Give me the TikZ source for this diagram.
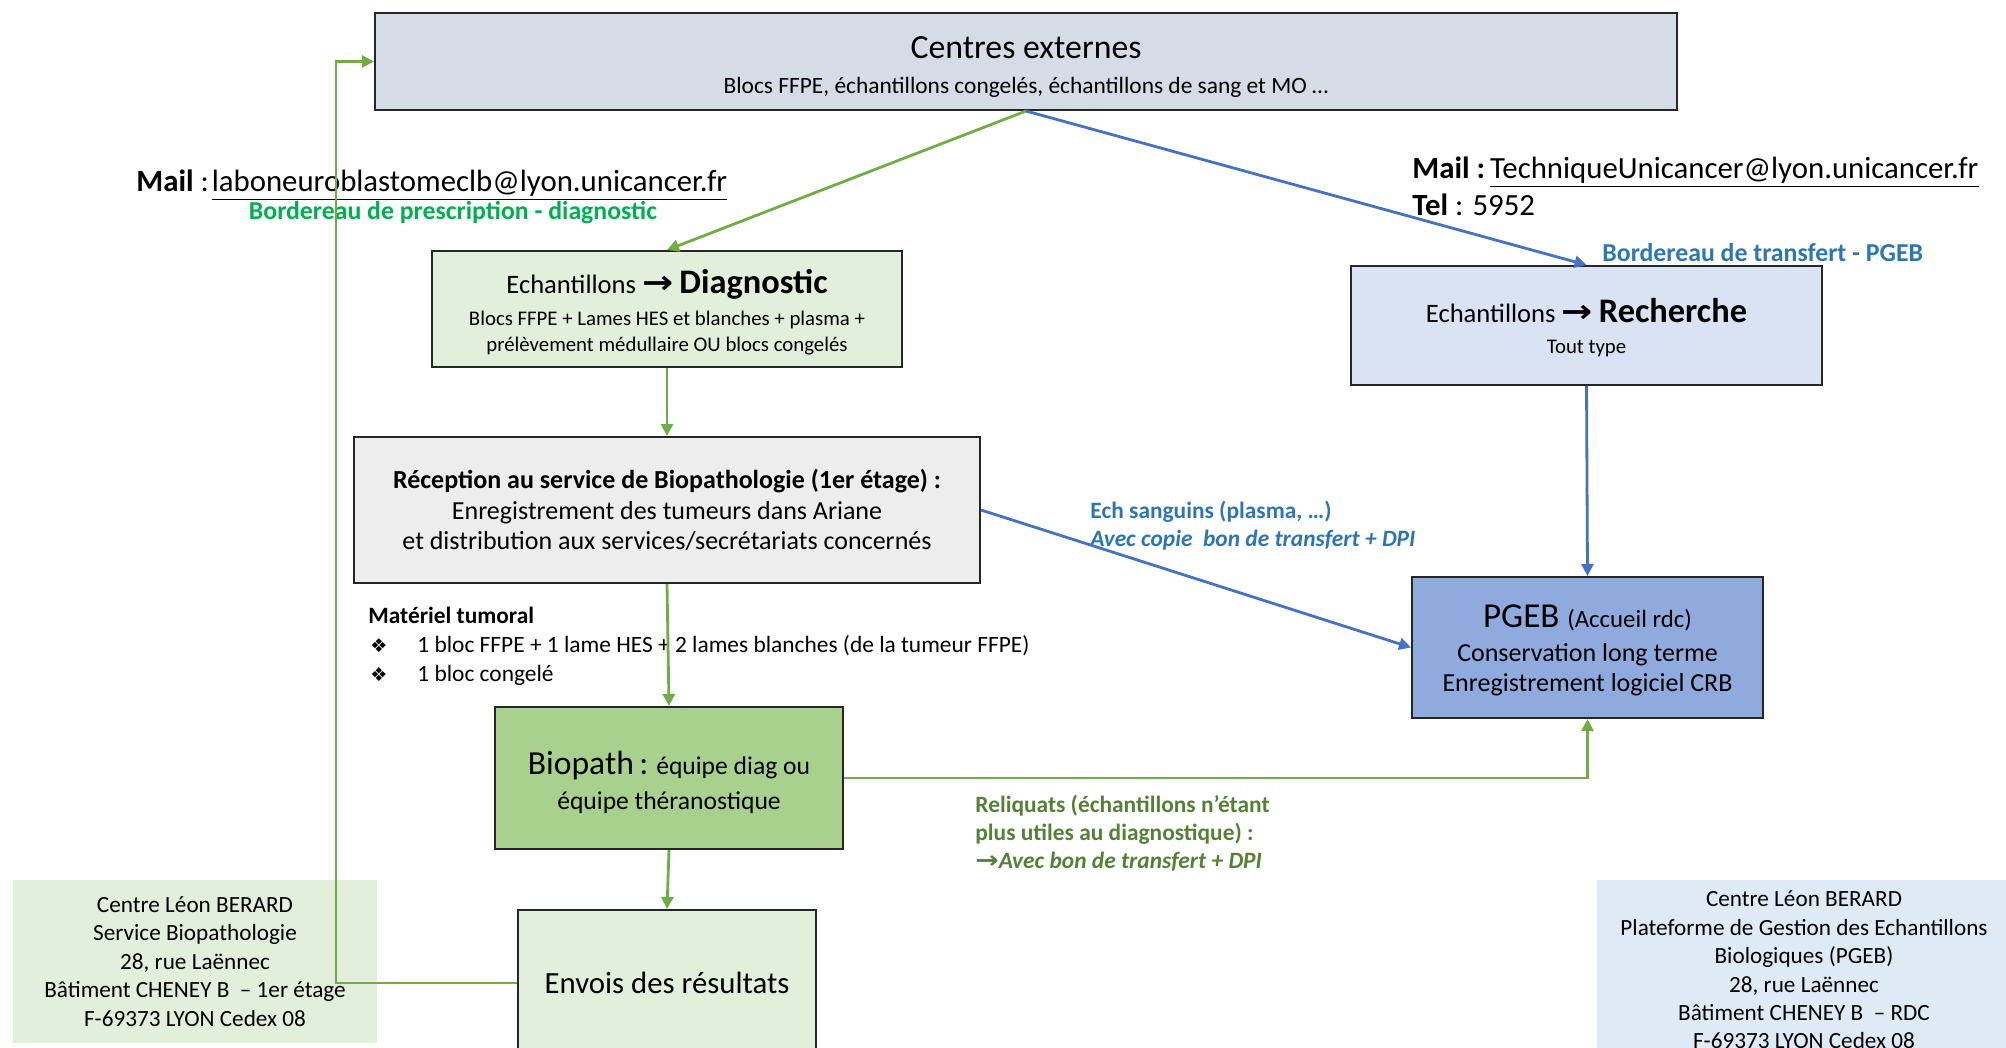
\documentclass[tikz,border=0pt]{standalone}
\usepackage{fontspec}
\usepackage{graphicx}
\setmainfont{Carlito}
\newfontfamily\djv{DejaVu Sans}
\usetikzlibrary{arrows.meta}
\definecolor{gline}{HTML}{70AD47}
\definecolor{bline}{HTML}{4472C4}
\definecolor{gtext}{HTML}{00B050}
\definecolor{dgtext}{HTML}{548235}
\definecolor{btext}{HTML}{2E75B6}
\definecolor{cextfill}{HTML}{D6DCE5}
\definecolor{lgfill}{HTML}{E2EFDA}
\definecolor{lbfill}{HTML}{DAE3F3}
\definecolor{grfill}{HTML}{EDEDED}
\definecolor{pgebfill}{HTML}{8FAADC}
\definecolor{biopfill}{HTML}{A9D18E}
\definecolor{addrbfill}{HTML}{DEEBF7}
\newcommand{\fs}[2]{\fontsize{#1}{#2}\selectfont}
\newcommand{\rarr}{\scalebox{1.4}[1.2]{\djv\bfseries →}}
\newcommand{\bul}{\hspace*{1pt}\makebox[23.5pt][l]{\djv\fs{9.5}{14.5}❖}}
\newcommand{\tstrut}[1]{\rule{0pt}{#1}}
\begin{document}
\begin{tikzpicture}[x=0.5pt,y=-0.5pt,
  box/.style={draw=black!85, line width=1pt, inner sep=0pt, align=center},
  addr/.style={inner sep=0pt, align=center},
  lbl/.style={inner sep=0pt, anchor=west, align=left},
  garr/.style={draw=gline, line width=1.4pt, -{Triangle[length=6pt,width=6pt]}},
  barr/.style={draw=bline, line width=1.4pt, -{Triangle[length=6pt,width=6pt]}}]
\clip (0,0) rectangle (2006,1048);
\fill[white] (0,0) rectangle (2006,1048);

% address boxes
\node[addr, fill=lgfill, minimum width=182pt, minimum height=81.5pt,
      font=\fs{11.6}{14.25}] (addrL) at (195,961.5)
  {Centre Léon BERARD\\Service Biopathologie\\28, rue Laënnec\\Bâtiment CHENEY B\ \ -- 1er étage\\F-69373 LYON Cedex 08};
\node[addr, fill=addrbfill, minimum width=207pt, minimum height=90pt,
      font=\fs{11.6}{14.2}] (addrR) at (1804,970)
  {Centre Léon BERARD\\Plateforme de Gestion des Echantillons\\Biologiques (PGEB)\\28, rue Laënnec\\Bâtiment CHENEY B\ \ -- RDC\\F-69373 LYON Cedex 08};

% main boxes
\node[box, fill=cextfill, minimum width=651pt, minimum height=48.5pt] (cext) at (1026,61.5)
  {\tstrut{16.6pt}\fs{16.9}{20}Centres externes\\[5.1pt]\fs{11.7}{14}Blocs FFPE, échantillons congelés, échantillons de sang et MO …};
\node[box, fill=lgfill, minimum width=235pt, minimum height=58pt, font=\fs{10.4}{12.8}] (diag) at (667,309)
  {\tstrut{15.5pt}\fs{13.3}{16}Echantillons \rarr{} {\fs{17.2}{20}\bfseries Diagnostic}\\[3.2pt]
   Blocs FFPE + Lames HES et blanches + plasma +\\prélèvement médullaire OU blocs congelés};
\node[box, fill=lbfill, minimum width=235.5pt, minimum height=59.5pt, font=\fs{10.4}{12.8}] (rech) at (1586.5,325.5)
  {\tstrut{14.3pt}\fs{13.3}{16}Echantillons \rarr{} {\fs{17.2}{20}\bfseries Recherche}\\[2.5pt]
   Tout type};
\node[box, fill=grfill, minimum width=313pt, minimum height=73pt, font=\fs{13}{15.35}] (recep) at (667,510)
  {\textbf{Réception au service de Biopathologie (1er étage) :}\\Enregistrement des tumeurs dans Ariane\\et distribution aux services/secrétariats concernés};
\node[box, fill=pgebfill, minimum width=175.5pt, minimum height=70.5pt, font=\fs{13}{15.35}] (pgeb) at (1587.5,647.5)
  {\tstrut{14.5pt}\fs{17.5}{20}PGEB {\fs{12.4}{14}(Accueil rdc)}\\[1.3pt]
   Conservation long terme\\Enregistrement logiciel CRB};
\node[box, fill=biopfill, minimum width=174pt, minimum height=71pt, font=\fs{12.8}{17.3}] (biop) at (669,778)
  {\tstrut{15.9pt}{\fs{16.8}{19}Biopath\,:}{\fs{12.8}{15} équipe diag ou}\\équipe théranostique};
\node[box, fill=lgfill, minimum width=149pt, minimum height=73pt, font=\fs{15.4}{18}] (envois) at (667,983)
  {Envois des résultats};

% labels
\node[lbl, font=\fs{15.4}{18}] (mailL) at (136,185)
  {\textbf{Mail} :\hspace{1.5pt}\underline{laboneuroblastomeclb@lyon.unicancer.fr}};
\node[inner sep=0pt, font=\fs{12.9}{15}\bfseries, text=gtext] (bordL) at (453,213)
  {Bordereau de prescription - diagnostic};
\node[lbl, font=\fs{15.4}{18}] (mailR) at (1412,172)
  {\textbf{Mail :}\hspace{2.5pt}\underline{TechniqueUnicancer@lyon.unicancer.fr}};
\node[lbl, font=\fs{15.4}{18}] (tel) at (1412,205) {\textbf{Tel} : 5952};
\node[lbl, font=\fs{12.9}{15}\bfseries, text=btext] (bordR) at (1602,253)
  {Bordereau de transfert - PGEB};
\node[lbl, font=\fs{11.7}{14.1}\bfseries, text=btext] (ech) at (1090,526)
  {Ech sanguins (plasma, …)\\\textit{Avec copie\ \ bon de transfert + DPI}};
\node[lbl, font=\fs{11.7}{14.4}] (mat) at (368,646)
  {\textbf{Matériel tumoral}\\
   \bul 1 bloc FFPE + 1 lame HES + 2 lames blanches (de la tumeur FFPE)\\
   \bul 1 bloc congelé};
\node[lbl, font=\fs{11.7}{14.1}\bfseries, text=dgtext] (reliq) at (975,833)
  {Reliquats (échantillons n’étant\\plus utiles au diagnostique) :\\{\fs{10}{14.1}\rarr}\textit{Avec bon de transfert + DPI}};

% connectors
\draw[garr] (cext.south) -- (diag.north);
\draw[barr] (cext.south) -- (rech.north);
\draw[garr] (diag.south) -- (recep.north);
\draw[barr] (rech.south) -- (pgeb.north);
\draw[barr] (recep.east) -- (pgeb.west);
\draw[garr] (recep.south) -- (biop.north);
\draw[garr] (biop.east) -| (pgeb.south);
\draw[garr] (biop.south) -- (envois.north);
\coordinate (loopx) at (336,983);
\draw[garr] (envois.west) -- (loopx) |- (cext.west);
\end{tikzpicture}
\end{document}
